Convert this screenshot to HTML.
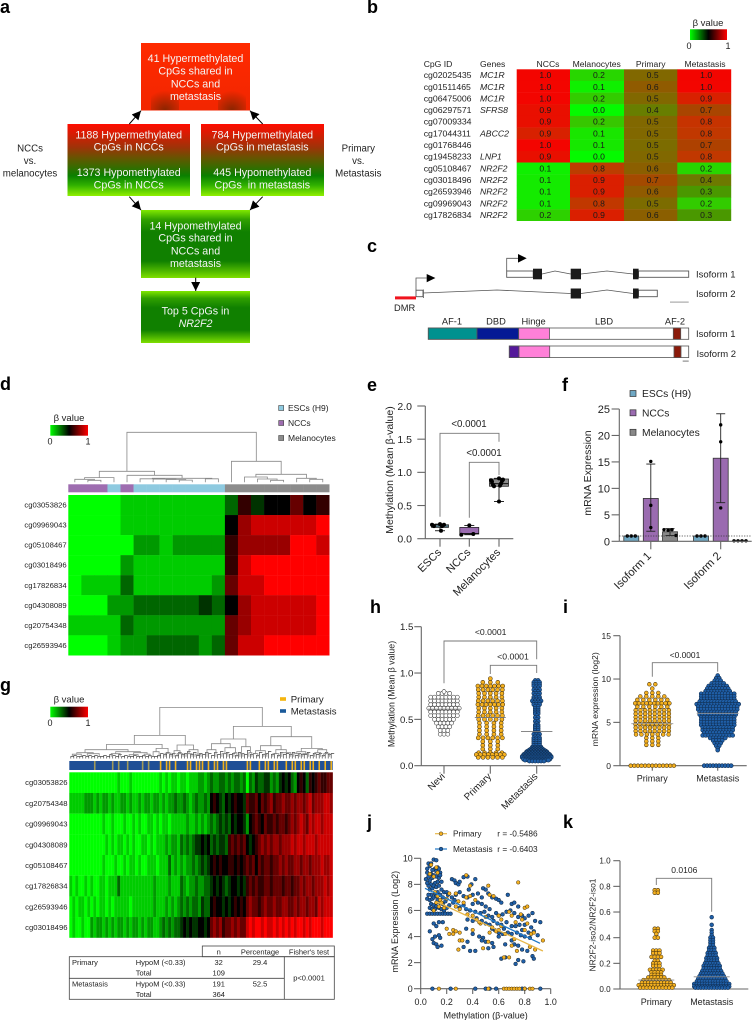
<!DOCTYPE html>
<html lang="en">
<head>
<meta charset="utf-8">
<title>NR2F2 methylation figure</title>
<style>
html,body{margin:0;padding:0;background:#fff;width:752px;height:1020px;overflow:hidden}
svg{display:block}
text{font-family:"Liberation Sans",sans-serif;fill:#222}
.pl{font-size:18px;font-weight:bold;fill:#000}
.bt{font-size:10.7px;fill:#f4f4f4;text-anchor:middle}
.sd{font-size:9.7px;fill:#222;text-anchor:middle}
.tb{font-size:7.5px;fill:#222}
.mid{text-anchor:middle}
</style>
</head>
<body>
<svg id="fig" width="752" height="1020" viewBox="0 0 752 1020" xmlns="http://www.w3.org/2000/svg">
<defs>
<linearGradient id="gradHot" x1="0" y1="0" x2="0" y2="1"><stop offset="0" stop-color="#ff2a00"/><stop offset="1" stop-color="#f22600"/></linearGradient>
<radialGradient id="gradSmudge" cx="0.5" cy="1" r="0.75"><stop offset="0" stop-color="#8a2500"/><stop offset="1" stop-color="#8a2500" stop-opacity="0"/></radialGradient>
<linearGradient id="gradMid" x1="0" y1="0" x2="0" y2="1"><stop offset="0" stop-color="#ff0c00"/><stop offset="0.32" stop-color="#a03208"/><stop offset="0.5" stop-color="#5b5b00"/><stop offset="0.72" stop-color="#0a8000"/><stop offset="0.85" stop-color="#30b000"/><stop offset="1" stop-color="#90f000"/></linearGradient>
<linearGradient id="gradLow" x1="0" y1="0" x2="0" y2="1"><stop offset="0" stop-color="#80e800"/><stop offset="0.14" stop-color="#30a000"/><stop offset="0.32" stop-color="#108000"/><stop offset="0.75" stop-color="#108000"/><stop offset="0.9" stop-color="#50b800"/><stop offset="1" stop-color="#80e000"/></linearGradient>
<linearGradient id="gradBeta" x1="0" y1="0" x2="1" y2="0"><stop offset="0" stop-color="#00ff00"/><stop offset="0.5" stop-color="#000"/><stop offset="1" stop-color="#ff0000"/></linearGradient>
<marker id="arrowHead" viewBox="0 0 10 10" refX="10" refY="5" markerWidth="9" markerHeight="9" markerUnits="userSpaceOnUse" orient="auto"><path d="M0 0L10 5L0 10z" fill="#000"/></marker>
</defs>

<g>
<text class="pl" x="0" y="13">a</text>
<text class="pl" x="367" y="13">b</text>
<text class="pl" x="367" y="252">c</text>
<text class="pl" x="0" y="390">d</text>
<text class="pl" x="367" y="391">e</text>
<text class="pl" x="562" y="391">f</text>
<text class="pl" x="0" y="691">g</text>
<text class="pl" x="370" y="613">h</text>
<text class="pl" x="563" y="613">i</text>
<text class="pl" x="367" y="828">j</text>
<text class="pl" x="563" y="828">k</text>
</g>

<g>
<rect x="141" y="43" width="109" height="67.5" fill="url(#gradHot)"/>
<rect x="151" y="84" width="28" height="26" fill="url(#gradSmudge)"/>
<rect x="218" y="84" width="28" height="26" fill="url(#gradSmudge)"/>
<rect x="67.5" y="124" width="122.5" height="72" fill="url(#gradMid)"/>
<rect x="201" y="124" width="123" height="72" fill="url(#gradMid)"/>
<rect x="141" y="210" width="109" height="68" fill="url(#gradLow)"/>
<rect x="141" y="291" width="109" height="52" fill="url(#gradLow)"/>
<g stroke="#000" stroke-width="1">
<line x1="129.3" y1="124" x2="141" y2="110.7" marker-end="url(#arrowHead)"/>
<line x1="262.7" y1="124" x2="250" y2="110.7" marker-end="url(#arrowHead)"/>
<line x1="129.3" y1="196.7" x2="141" y2="210" marker-end="url(#arrowHead)"/>
<line x1="262.7" y1="196.7" x2="250" y2="210" marker-end="url(#arrowHead)"/>
<line x1="195.7" y1="277.7" x2="195.7" y2="291" marker-end="url(#arrowHead)"/>
</g>
<g>
<text class="bt" x="195.5" y="62">41 Hypermethylated</text><text class="bt" x="195.5" y="74.7">CpGs shared in</text><text class="bt" x="195.5" y="87.4">NCCs and</text><text class="bt" x="195.5" y="100">metastasis</text>
</g>
<g>
<text class="bt" x="128.7" y="138.4">1188 Hypermethylated</text><text class="bt" x="128.7" y="150.7">CpGs in NCCs</text><text class="bt" x="128.7" y="176">1373 Hypomethylated</text><text class="bt" x="128.7" y="188.7">CpGs in NCCs</text>
</g>
<g>
<text class="bt" x="262.3" y="138.4">784 Hypermethylated</text><text class="bt" x="262.3" y="150.7">CpGs in metastasis</text><text class="bt" x="262.3" y="176">445 Hypomethylated</text><text class="bt" x="262.3" y="188.7">CpGs&#160; in metastasis</text>
</g>
<g>
<text class="bt" x="195.5" y="229.4">14 Hypomethylated</text><text class="bt" x="195.5" y="241.7">CpGs shared in</text><text class="bt" x="195.5" y="254.4">NCCs and</text><text class="bt" x="195.5" y="267">metastasis</text>
</g>
<g>
<text class="bt" x="195.5" y="314.7">Top 5 CpGs in</text><text class="bt" x="195.5" y="327" font-style="italic">NR2F2</text>
</g>
<g>
<text class="sd" x="30" y="151.3">NCCs</text><text class="sd" x="30" y="164">vs.</text><text class="sd" x="30" y="176.6">melanocytes</text>
</g>
<g>
<text class="sd" x="358.3" y="151.3">Primary</text><text class="sd" x="358.3" y="164">vs.</text><text class="sd" x="358.3" y="176.6">Metastasis</text>
</g>
</g>

<g id="panelB">
<g>
<text x="708" y="26" font-size="9.5" class="mid">β value</text>
<rect x="690" y="29.3" width="37" height="10.7" fill="url(#gradBeta)"/>
<text x="689" y="49" font-size="9" class="mid">0</text><text x="728" y="49" font-size="9" class="mid">1</text>
</g>
<g font-size="8.6">
<text x="423.7" y="67.2">CpG ID</text><text x="480" y="67.2">Genes</text>
<text x="548" y="67.2" class="mid">NCCs</text><text x="596.7" y="67.2" class="mid">Melanocytes</text><text x="650.7" y="67.2" class="mid">Primary</text><text x="705" y="67.2" class="mid">Metastasis</text>
</g>
</g>

<g>
<g fill="#fff" stroke="#555" stroke-width="0.9">
<rect x="506.7" y="271" width="26.5" height="6.3"/>
<rect x="638.5" y="271" width="50.2" height="6.3"/>
<rect x="416" y="290.2" width="7" height="6.5"/>
<rect x="638.5" y="290.2" width="18.8" height="6.5"/>
</g>
<g fill="none" stroke="#555" stroke-width="0.8">
<path d="M542 274L555 271L570.7 274"/>
<path d="M581 274L607 271L633 274"/>
<path d="M423 293L497 290L570.7 293.5"/>
<path d="M581 293.5L607 290L633 293.5"/>
<path d="M423.4 289.5V298"/>
<path d="M506.7 271V258.3H518"/>
<path d="M416 290V278H426.7"/>
</g>
<path d="M518 254L526.7 258.3L518 262.6z" fill="#000"/>
<path d="M426.7 274L435.4 278L426.7 282.3z" fill="#000"/>
<g fill="#1a1a1a">
<rect x="533" y="268.7" width="9" height="10.6"/>
<rect x="570.7" y="268.7" width="10.3" height="10.6"/>
<rect x="633" y="268.7" width="5.6" height="10.6"/>
<rect x="570.7" y="288.5" width="10.3" height="10"/>
<rect x="633" y="288.5" width="5.6" height="10"/>
</g>
<rect x="395" y="296.4" width="21" height="3" fill="#f0141e"/>
<text x="394" y="311" font-size="9.3">DMR</text>
<rect x="670" y="301.6" width="18.7" height="1" fill="#999"/>
<text x="696" y="277.5" font-size="9.5">Isoform 1</text>
<text x="696" y="297" font-size="9.5">Isoform 2</text>
<g font-size="9.3">
<text x="452" y="324.3" class="mid">AF-1</text>
<text x="496" y="324.3" class="mid">DBD</text>
<text x="533.6" y="324.3" class="mid">Hinge</text>
<text x="604" y="324.3" class="mid">LBD</text>
<text x="675" y="324.3" class="mid">AF-2</text>
</g>
<g stroke="#555" stroke-width="0.8">
<rect x="428.3" y="328" width="260.4" height="11.3" fill="#fff"/>
<rect x="428.3" y="328" width="48.7" height="11.3" fill="#00918f"/>
<rect x="477" y="328" width="41.7" height="11.3" fill="#041a95"/>
<rect x="518.7" y="328" width="30.8" height="11.3" fill="#ff80d8"/>
<rect x="673.3" y="328" width="7.4" height="11.3" fill="#8b1a0a"/>
<rect x="509.3" y="346" width="179.4" height="11.6" fill="#fff"/>
<rect x="509.3" y="346" width="9.7" height="11.6" fill="#54189a"/>
<rect x="519" y="346" width="30.7" height="11.6" fill="#ff80d8"/>
<rect x="674" y="346" width="7" height="11.6" fill="#8b1a0a"/>
</g>
<text x="696" y="337" font-size="9.5">Isoform 1</text>
<text x="696.5" y="357" font-size="9.5">Isoform 2</text>
<rect x="682.7" y="360.6" width="6" height="1" fill="#777"/>
</g>

<g id="panelD">
<g>
<text x="69" y="421" font-size="9.5" class="mid">β value</text>
<rect x="50.3" y="425" width="37.7" height="10.7" fill="url(#gradBeta)"/>
<text x="50" y="444.5" font-size="9" class="mid">0</text><text x="88" y="444.5" font-size="9" class="mid">1</text>
</g>
<g font-size="8.5">
<rect x="278.7" y="405.5" width="5" height="5" fill="#8ecae0" stroke="#444" stroke-width="0.6"/><text x="288" y="411">ESCs (H9)</text>
<rect x="278.7" y="420.5" width="5" height="5" fill="#9e6db0" stroke="#444" stroke-width="0.6"/><text x="288" y="426">NCCs</text>
<rect x="278.7" y="435.5" width="5" height="5" fill="#8c8c8c" stroke="#444" stroke-width="0.6"/><text x="288" y="441">Melanocytes</text>
</g>
</g>

<g id="panelE">
<text transform="translate(393 470) rotate(-90)" font-size="10.5" class="mid">Methylation (Mean β-value)</text>
<text x="469" y="427" font-size="9.7" class="mid">&lt;0.0001</text>
<text x="484" y="456" font-size="9.7" class="mid">&lt;0.0001</text>
</g>

<g id="panelF">
<text transform="translate(591 473) rotate(-90)" font-size="10.5" class="mid">mRNA Expression</text>
<g font-size="10.3">
<rect x="630" y="390.5" width="6" height="6" fill="#6fa8c4" stroke="#333" stroke-width="0.7"/><text x="642" y="397.2">ESCs (H9)</text>
<rect x="630" y="409.8" width="6" height="6" fill="#9a6bb0" stroke="#333" stroke-width="0.7"/><text x="642" y="416.6">NCCs</text>
<rect x="630" y="429.3" width="6" height="6" fill="#888" stroke="#333" stroke-width="0.7"/><text x="642" y="436">Melanocytes</text>
</g>
</g>

<g id="panelG">
<g>
<text x="69" y="702.5" font-size="9.5" class="mid">β value</text>
<rect x="50.3" y="706.7" width="37.7" height="10.6" fill="url(#gradBeta)"/>
<text x="50" y="726" font-size="9" class="mid">0</text><text x="88" y="726" font-size="9" class="mid">1</text>
</g>
<g font-size="9.6">
<rect x="280" y="697.2" width="6" height="3.6" fill="#f5b50f"/><text x="290.7" y="702.5">Primary</text>
<rect x="280" y="709.2" width="6" height="3.6" fill="#1a5a9a"/><text x="290.7" y="714.5">Metastasis</text>
</g>
<g>
<g fill="none" stroke="#444" stroke-width="0.8">
<rect x="202.3" y="946" width="132" height="10.7"/>
<rect x="69.3" y="956.7" width="265" height="42.6"/>
<path d="M69.3 978.3H284.3M284.3 956.7V999.3"/>
</g>
<text class="tb" x="218.7" y="954.3" text-anchor="middle">n</text>
<text class="tb" x="260" y="954.3" text-anchor="middle">Percentage</text>
<text class="tb" x="309" y="954.3" text-anchor="middle">Fisher's test</text>
<text class="tb" x="72" y="965">Primary</text><text class="tb" x="135.7" y="965">HypoM (&lt;0.33)</text><text class="tb" x="218.7" y="965" text-anchor="middle">32</text><text class="tb" x="260" y="965" text-anchor="middle">29.4</text>
<text class="tb" x="135.7" y="975.7">Total</text><text class="tb" x="218.7" y="975.7" text-anchor="middle">109</text>
<text class="tb" x="72" y="986.4">Metastasis</text><text class="tb" x="135.7" y="986.4">HypoM (&lt;0.33)</text><text class="tb" x="218.7" y="986.4" text-anchor="middle">191</text><text class="tb" x="260" y="986.4" text-anchor="middle">52.5</text>
<text class="tb" x="135.7" y="997">Total</text><text class="tb" x="218.7" y="997" text-anchor="middle">364</text>
<text class="tb" x="309" y="980.7" text-anchor="middle">p&lt;0.0001</text>
</g>
</g>

<g id="panelH">
<text transform="translate(394.5 694) rotate(-90)" font-size="8.8" class="mid">Methylation (Mean β value)</text>
<text x="490.7" y="635.2" font-size="8.7" class="mid">&lt;0.0001</text>
<text x="513" y="659.6" font-size="8.7" class="mid">&lt;0.0001</text>
</g>

<g id="panelI">
<text transform="translate(598 699.3) rotate(-90)" font-size="8.7" class="mid">mRNA expression (log2)</text>
<text x="685" y="658" font-size="8.4" class="mid">&lt;0.0001</text>
</g>

<g id="panelJ">
<text transform="translate(398 921.7) rotate(-90)" font-size="9" class="mid">mRNA Expression (Log2)</text>
<text x="485.7" y="1018.6" font-size="9" class="mid">Methylation (β-value)</text>
<g font-size="8.3">
<line x1="435" x2="447" y1="833.7" y2="833.7" stroke="#e8b84a" stroke-width="1.2"/><circle cx="441" cy="833.7" r="1.9" fill="#f5b120" stroke="#333" stroke-width="0.5"/><text x="453" y="836.6">Primary</text><text x="497.3" y="836.6">r = -0.5486</text>
<line x1="435" x2="447" y1="849" y2="849" stroke="#1f78c8" stroke-width="1.2"/><circle cx="441" cy="849" r="1.9" fill="#1f5fa8" stroke="#123" stroke-width="0.5"/><text x="453" y="851.9">Metastasis</text><text x="497.3" y="851.9">r = -0.6403</text>
</g>
</g>

<g id="panelK">
<text transform="translate(595.5 925) rotate(-90)" font-size="8.5" class="mid">NR2F2-iso2/NR2F2-iso1</text>
<text x="684.3" y="873" font-size="8.5" class="mid">0.0106</text>
</g>
</svg>

<script>
/* ---------- panel b data ---------- */
const bCpgIds=['cg02025435','cg01511465','cg06475006','cg06297571','cg07009334','cg17044311','cg01768446','cg19458233','cg05108467','cg03018496','cg26593946','cg09969043','cg17826834'];
const bGenes=['MC1R','MC1R','MC1R','SFRS8','','ABCC2','','LNP1','NR2F2','NR2F2','NR2F2','NR2F2','NR2F2'];
const bNCCs=[.98,.98,.98,.94,.94,.87,.98,.94,.06,.08,.08,.08,.18];
const bMelanocytes=[.16,.06,.2,.02,.22,.1,.09,.02,.76,.88,.88,.78,.88];
const bPrimary=[.52,.58,.52,.42,.52,.52,.5,.52,.56,.66,.58,.5,.56];
const bMetastasis=[.98,.98,.87,.68,.8,.78,.7,.78,.16,.44,.3,.2,.3];

/* ---------- panel d data ---------- */
const dRowLabels=['cg03053826','cg09969043','cg05108467','cg03018496','cg17826834','cg04308089','cg20754348','cg26593946'];
const dAnnotation=[1,1,1,0,1,0,0,0,0,0,0,0,2,2,2,2,2,2,2,2];
const dRow1=[0,0,0,0,.1,.1,.1,.1,.1,.1,.1,.1,.3,.6,.4,.5,.5,.7,.5,.6];
const dRow2=[0,0,0,0,.1,.1,.1,.1,.1,.1,.1,.1,.5,.8,.9,.9,.9,.9,.9,1];
const dRow3=[0,0,0,0,0,.2,.2,.1,.2,.2,.2,.2,.6,.8,.8,.8,.8,1,1,.9];
const dRow4=[0,0,0,0,.2,.1,.1,.1,.1,.1,.1,.1,.6,.9,1,1,1,1,1,1];
const dRow5=[0,.1,.1,.1,.3,.1,.1,.1,.1,.1,.1,.2,.7,.9,.9,1,1,1,1,1];
const dRow6=[0,0,0,.2,.2,.3,.3,.3,.3,.3,.4,.3,.5,.8,.9,.9,.9,.9,.9,1];
const dRow7=[.1,.1,.1,.1,.3,.2,.2,.2,.2,.2,.2,.2,.7,.8,.9,.9,.9,.9,.9,1];
const dRow8=[0,0,0,.1,.2,.2,.3,.3,.3,.3,.2,.3,.7,.9,.9,1,1,1,1,1];
const dTree=[50,[11,[4.7,[3,0,[2,1,2]],3],[7,4,[4,[3.5,5,[3.2,6,[2.8,7,[2.2,8,9]]]],[3.5,10,11]]]],[21,12,[8,[5.3,13,[3.3,14,[2,15,16]]],[4,17,[3,18,19]]]]];

/* ---------- panel e data ---------- */
const eCategories=['ESCs','NCCs','Melanocytes'];
const eTicks=[0,.5,1,1.5,2];
const eTickLabels=['0.0','0.5','1.0','1.5','2.0'];
const eWhiskerLow=[.12,.06,.56];
const eQ1=[.17,.07,.79];
const eMedian=[.19,.08,.83];
const eQ3=[.21,.17,.9];
const eWhiskerHigh=[.22,.2,.91];
const eESCs=[.22,.21,.21,.2,.2,.19,.19,.12];
const eNCCs=[.2,.07,.06];
const eMelanocytes=[.91,.89,.88,.87,.86,.83,.81,.8,.79,.56];

/* ---------- panel f data ---------- */
const fGroups=['Isoform 1','Isoform 2'];
const fTicks=[0,5,10,15,20,25];
const fMeans=[1,8.1,1.8,1,15.7,0.1];
const fErrLow=[1,1.9,1.1,1,7.3,0.1];
const fErrHigh=[1,14.6,2.4,1,24.1,0.1];
const fPoints=[[1,1,1],[15.1,6.8,2.6],[2.2,2.1,2.2,1.1],[1,1,1],[22,18.8,6.3],[.1,.1,.1,.1]];

/* ---------- panel g data (beta, in tenths) ---------- */
const gRowLabels=['cg03053826','cg20754348','cg09969043','cg04308089','cg05108467','cg17826834','cg26593946','cg03018496'];
const gRow1=[0,0,0,0,0,0,0,0,0,0,0,0,0,0,0,0,1,0,0,0,1,0,0,0,0,0,0,0,0,0,1,0,1,0,1,1,0,1,1,0,1,1,1,2,2,1,2,3,2,2,3,3,2,3,2,3,3,2,3,0,3,2,4,3,3,4,4,2,3,2,4,5,4,5,3,2,5,6,5,3,6,5,6,7,6,6,7,7];
const gRow2=[1,1,1,1,1,2,2,2,1,2,1,2,2,1,2,1,1,2,2,1,2,1,1,2,1,2,2,1,2,2,1,2,1,2,2,3,2,2,3,2,1,2,3,2,2,3,2,5,6,5,4,3,5,4,5,6,5,5,4,7,6,6,7,5,7,6,7,8,6,7,7,8,7,7,8,7,8,8,7,8,9,7,8,8,8,9,9,8];
const gRow3=[0,0,0,0,0,0,0,0,0,0,0,1,0,0,1,0,0,0,1,0,0,1,0,1,0,0,1,1,0,1,0,1,1,0,1,1,1,1,1,2,1,1,2,1,2,1,2,3,2,3,4,3,4,3,5,4,5,5,4,2,5,6,7,6,5,7,6,6,7,6,7,7,6,7,8,7,8,9,8,7,9,8,9,9,8,9,9,9];
const gRow4=[0,0,0,0,0,0,0,0,0,0,0,0,1,0,1,0,1,1,0,1,0,1,0,0,1,1,0,1,0,1,1,1,2,1,2,2,1,3,2,3,2,3,4,4,5,4,5,3,4,3,4,4,3,6,7,6,7,6,7,5,4,5,6,7,8,7,8,7,8,8,7,8,8,8,9,8,9,9,8,9,9,9,8,9,9,9,9,9];
const gRow5=[0,0,0,0,0,0,0,0,0,0,0,1,0,0,0,1,0,0,1,0,1,1,0,1,0,0,1,1,1,0,1,1,1,3,1,2,1,2,1,2,2,3,2,3,4,3,4,5,6,5,6,5,5,6,6,5,6,5,6,7,6,7,5,7,6,7,7,6,7,7,8,7,8,7,7,8,8,7,8,8,7,8,8,8,9,8,8,9];
const gRow6=[1,0,1,0,0,1,0,1,0,0,1,1,0,1,1,1,3,1,1,1,1,1,1,1,1,1,1,1,2,1,1,1,1,2,1,1,1,3,2,1,2,2,3,2,2,3,3,4,5,4,5,4,3,4,5,5,4,5,4,6,7,6,7,6,6,7,7,6,7,7,7,6,7,7,6,7,7,8,7,8,8,7,8,8,8,9,8,9];
const gRow7=[0,1,0,1,1,0,1,0,1,0,1,1,0,1,0,1,1,1,1,1,0,1,1,1,1,1,1,1,2,1,1,1,2,1,2,1,2,3,2,3,2,3,3,2,4,3,3,5,6,5,5,4,5,4,5,6,5,6,5,7,8,7,7,6,7,8,7,7,8,7,7,8,8,7,7,8,7,8,8,7,8,8,7,9,8,9,9,9];
const gRow8=[0,1,0,0,1,0,0,2,1,2,2,1,2,1,2,1,2,2,1,2,1,2,2,1,2,1,2,2,1,1,2,3,2,3,2,3,3,4,5,4,5,4,4,5,5,4,5,7,8,7,8,6,7,7,8,7,8,7,7,9,10,9,10,10,9,10,9,9,10,9,10,9,10,9,10,9,10,10,9,10,9,10,10,10,9,10,10,10];
const gAnnotation=[0,0,0,0,0,0,0,0,1,0,0,0,0,0,1,0,1,0,0,1,0,0,0,0,1,0,1,0,0,0,1,0,1,1,0,1,0,0,0,1,1,0,1,1,1,0,1,0,1,1,0,1,1,0,0,0,0,0,0,1,1,0,0,1,0,1,1,0,1,1,0,0,1,0,1,1,0,1,1,0,1,1,0,1,0,1,0,1];
const gTree=[49.3,[21.3,[12.3,[7,[4,[2.5,1,4],[3,6,10]],[5,[3,14,17],[4,[2,20,23],[2.5,25,27]]]],[8.3,[5,28,30],[3.5,32,34]]],[11.7,[6,35,[3,36,38]],[7,[3,39,41],[2.5,42,44]]]],[30.3,[17.7,[13,[7,46,49],[9,[3,51,53],[4,55,56]]],[10,[3,57,58],[4,60,61]]],[20,[11,[6,[3,61.5,63],[2.5,65,66]],[7,[3,68,70],[4,71,74]]],[8.3,[5,[3,75,77],[3,78,80]],[7,[4,82,84],[3,85,87]]]]]];
const gFuzz=[1,2,1,1,2,1,2,1,2,1,1,2,1,3,2,1,3,1,2,1,1,2,1,1,2,1,2,1,1,2,4,3,5,3,4,2,5,3,4,6,3,5,2,4,3,5,4,2,5,3,6,4,5,3,4,2,5,4,3,7,3,4,2,5,3,4,6,3,4,2,5,3,4,3,5,2,4,3,3,5,2,4,3,4,2,5,3,4];

/* ---------- panel h data (value levels + dots per level) ---------- */
const hCategories=['Nevi','Primary','Metastasis'];
const hTicks=[0,.5,1,1.5];
const hTickLabels=['0.0','0.5','1.0','1.5'];
const hMeans=[.61,.52,.37];
const hNeviLevels=[.34,.38,.42,.46,.50,.54,.58,.62,.66,.70,.74,.78,.80];
const hNeviCounts=[3,3,4,5,6,8,8,9,8,8,8,4,1];
const hPrimaryLevels=[.94,.90,.86,.82,.78,.74,.70,.66,.62,.58,.54,.50,.46,.42,.38,.34,.30,.26,.22,.18,.14,.12,.09];
const hPrimaryCounts=[1,3,7,6,5,5,6,7,5,5,6,5,4,4,4,4,6,3,3,3,5,8,6];
const hMetLevels=[.92,.9,.88,.86,.84,.82,.8,.78,.76,.74,.72,.7,.68,.66,.64,.62,.6,.58,.56,.54,.52,.5,.48,.46,.44,.42,.4,.38,.36,.34,.32,.3,.28,.26,.24,.22,.2,.19,.18,.17,.16,.15,.14,.13,.12,.11,.1,.09,.08,.07,.06,.05];
const hMetCounts=[2,3,3,3,2,3,2,3,2,3,3,4,3,3,2,2,2,2,2,1,2,1,2,1,2,2,2,2,2,3,2,3,3,3,3,3,4,4,5,6,7,8,8,9,10,10,11,11,10,10,9,6];

/* ---------- panel i data ---------- */
const iCategories=['Primary','Metastasis'];
const iTicks=[0,5,10,15];
const iMeans=[4.85,6.05];
const iPrimaryLevels=[9.4,8.9,8.4,8,7.6,7.2,6.8,6.4,6,5.6,5.2,4.8,4.4,4,3.6,3.2,2.8,2.4,0];
const iPrimaryCounts=[2,1,3,5,6,10,6,8,8,8,8,9,8,8,7,3,3,3,13];
const iMetLevels=[10.4,10.1,9.8,9.5,9.2,8.9,8.6,8.3,8,7.7,7.4,7.1,6.8,6.5,6.2,5.9,5.6,5.3,5,4.7,4.4,4.1,3.8,3.5,3.2,2.9,2.6,2.3,2,1.8,0];
const iMetCounts=[1,2,3,5,7,8,9,12,12,12,13,15,14,14,13,13,12,12,12,12,11,11,10,11,6,4,3,2,1,1,10];

/* ---------- panel j data ---------- */
const jXTicks=[0,.2,.4,.6,.8,1];
const jXTickLabels=['0.0','0.2','0.4','0.6','0.8','1.0'];
const jYTicks=[0,2,4,6,8,10];
const jMetastasis=[[.05,9.2],[.06,9.6],[.05,8.9],[.07,9.4],[.08,9.6],[.1,9.9],[.12,9.85],[.11,9.2],[.09,9.1],[.13,9.3],[.14,9.2],[.15,8.9],[.12,9],[.08,8.8],[.06,8.6],[.04,8.4],[.07,8.3],[.09,8.5],[.1,8.7],[.12,8.6],[.14,8.5],[.15,8.7],[.16,8.2],[.13,8.2],[.11,8.1],[.08,8],[.06,7.9],[.05,8.1],[.07,7.6],[.09,7.7],[.1,7.9],[.12,7.8],[.14,7.9],[.16,7.6],[.18,7.4],[.13,7.4],[.11,7.3],[.08,7.2],[.06,7.2],[.05,6.9],[.07,6.8],[.09,6.9],[.1,7],[.12,7.1],[.15,7.2],[.17,7],[.2,7.4],[.21,7.2],[.13,6.8],[.15,6.6],[.17,6.5],[.19,6.7],[.08,6.5],[.1,6.4],[.12,6.3],[.07,6.2],[.09,6.1],[.11,6.1],[.14,6.2],[.16,6.1],[.18,6],[.2,6.2],[.05,5.75],[.07,5.75],[.09,5.75],[.11,5.75],[.13,5.75],[.15,5.75],[.17,5.75],[.19,5.75],[.21,5.75],[.23,5.75],[.22,6.4],[.25,6.6],[.24,7],[.07,4.4],[.1,5],[.12,4.8],[.14,5.1],[.17,5.1],[.11,4],[.09,3.8],[.1,3.5],[.12,3.4],[.13,3.2],[.15,3.9],[.16,3.3],[.14,4.1],[.24,8.4],[.26,8.3],[.27,8.1],[.29,8],[.3,8.2],[.33,8.55],[.36,8.6],[.42,8.4],[.39,8],[.37,7.6],[.4,7.2],[.44,7.3],[.48,7.7],[.5,7.6],[.47,7],[.52,7.3],[.55,7],[.58,6.9],[.6,6.8],[.62,6.6],[.67,7.2],[.7,6.5],[.72,6.6],[.75,6.3],[.27,7.2],[.3,7.4],[.33,7.1],[.36,7],[.26,6.8],[.3,6.2],[.33,6.4],[.35,6.1],[.38,6],[.4,6.5],[.44,6.6],[.47,6.5],[.5,6.3],[.53,6.1],[.42,5.9],[.46,5.8],[.49,5.9],[.52,5.6],[.55,5.5],[.58,5.8],[.6,5.6],[.63,5.7],[.66,5.9],[.69,6],[.72,5.8],[.75,5.5],[.78,5.6],[.8,5.4],[.83,5.6],[.86,5.8],[.88,5.2],[.92,5.1],[.36,5.3],[.4,5.2],[.43,5.4],[.47,5.2],[.5,5],[.53,4.9],[.56,5.2],[.59,5],[.62,4.9],[.64,4.6],[.66,5.1],[.7,4.8],[.73,4.8],[.76,4.9],[.78,4.5],[.8,4.9],[.83,4.3],[.85,4.7],[.87,4.4],[.9,4.1],[.67,4.3],[.7,4.2],[.74,4.3],[.77,4.1],[.8,4],[.84,3.9],[.57,4.5],[.6,4.3],[.63,4.2],[.55,4.6],[.45,4],[.48,3.9],[.5,3.6],[.52,3.1],[.55,3.5],[.56,3.2],[.6,4],[.65,3.4],[.7,3.7],[.72,3.4],[.75,3.3],[.78,3],[.82,2.9],[.86,2.5],[.87,2.3],[.62,2.3],[.65,2.4],[.75,2.2],[.79,2.1],[.73,1.9],[.36,3.6],[.38,2.9],[.33,3.2],[.42,2.9],[.47,3.7],[.4,4.2],[.35,4.6],[.09,0],[.23,0],[.42,0],[.5,0],[.53,0],[.58,0],[.78,0],[.8,0],[.92,0]];
const jPrimary=[[.08,9.5],[.12,9.3],[.13,8.9],[.1,8.6],[.07,8.8],[.11,7.4],[.13,7.1],[.15,6.8],[.12,6.6],[.14,6.3],[.1,6],[.16,6.6],[.18,6.2],[.2,6.9],[.22,7.3],[.27,7.3],[.29,6.7],[.27,6.3],[.3,6.1],[.33,6.6],[.35,7],[.35,8.7],[.38,7.9],[.38,7.1],[.42,6.8],[.36,5.7],[.4,5.6],[.43,5.3],[.46,5],[.4,4.5],[.5,5.5],[.52,7.9],[.53,7.2],[.56,7.1],[.6,5.6],[.62,4.8],[.55,4.7],[.58,4.4],[.6,4.5],[.65,4.2],[.68,5.9],[.75,8.15],[.77,5.7],[.8,6.2],[.82,6.3],[.78,5.3],[.82,5],[.85,4.2],[.87,4.3],[.84,3.2],[.88,3],[.94,3.7],[.7,3.3],[.72,3.8],[.74,2.9],[.68,2.4],[.64,2.4],[.48,3.1],[.52,3.6],[.53,4.3],[.3,3.7],[.32,3.7],[.22,4.2],[.2,4.6],[.25,4.5],[.27,4.4],[.3,4.3],[.29,3],[.25,4.2],[.45,5.1],[.62,5.3],[.7,5.6],[.73,5.1],[.8,4.5],[.14,0],[.27,0],[.52,0],[.64,0],[.66,0],[.68,0],[.7,0],[.72,0],[.74,0],[.76,0],[.8,0],[.84,0],[.86,0]];
const jPrimaryFitX=[.123,.94];
const jPrimaryFitY=[6.67,2.89];
const jMetFitX=[.033,.918];
const jMetFitY=[7.7,3.48];

/* ---------- panel k data ---------- */
const kCategories=['Primary','Metastasis'];
const kTicks=[0,.2,.4,.6,.8,1];
const kTickLabels=['0.0','0.2','0.4','0.6','0.8','1.0'];
const kMeans=[.07,.095];
const kPrimaryLevels=[.77,.75,.47,.45,.43,.4,.3,.28,.25,.22,.2,.18,.15,.13,.11,.09,.07,.05,.03,.01];
const kPrimaryCounts=[2,2,2,2,1,2,3,3,4,2,3,3,5,4,4,6,9,10,12,11];
const kMetLevels=[.56,.5,.46,.44,.42,.4,.38,.36,.34,.32,.3,.28,.26,.24,.22,.2,.18,.16,.14,.12,.1,.08,.06,.04,.02,.01];
const kMetCounts=[1,1,1,1,1,2,2,2,2,3,3,4,4,5,5,6,7,7,8,9,10,11,12,14,14,13];

/* ---------- helpers ---------- */
const NS='http://www.w3.org/2000/svg';
const AXIS='#666';
function linear(d0,d1,r0,r1){return function(v){return r0+(v-d0)*(r1-r0)/(d1-d0);};}
function mark(tag,name,attrs,parent){
  const e=document.createElementNS(NS,tag);
  
  
  for(const k in attrs){e.setAttribute(k,attrs[k]);}
  parent.appendChild(e);
  return e;
}
function txt(name,str,x,y,size,anchor,parent,extra){
  const a=Object.assign({x:x,y:y,'font-size':size,'text-anchor':anchor},extra||{});
  const e=mark('text',name,a,parent);
  e.textContent=str;
  return e;
}
function line(name,x1,y1,x2,y2,parent,color,w){
  return mark('line',name,{x1:x1,y1:y1,x2:x2,y2:y2,stroke:color||AXIS,'stroke-width':w||1.1},parent);
}
function yAxis(prefix,ticks,labels,sy,x,xEnd,tickLen,labelRight,size,parent){
  line(prefix+'-y-axis',x,sy(ticks[0]),x,sy(ticks[ticks.length-1]),parent);
  line(prefix+'-x-axis',x,sy(0),xEnd,sy(0),parent);
  ticks.forEach(function(t,i){
    line(prefix+'-y-tick',x-tickLen,sy(t),x,sy(t),parent);
    txt(prefix+'-y-tick-label',labels[i],labelRight,sy(t)+size*0.36,size,'end',parent);
  });
}
function xTicksRotated(prefix,cats,xs,y0,tickLen,endDx,endY,size,parent){
  cats.forEach(function(c,i){
    line(prefix+'-x-tick',xs[i],y0,xs[i],y0+tickLen,parent);
    const ex=xs[i]+endDx,ey=endY;
    txt(prefix+'-x-label',c,ex,ey,size,'end',parent,{transform:'rotate(-45 '+ex+' '+ey+')'});
  });
}
function xTicksFlat(prefix,cats,xs,y0,tickLen,labelY,size,parent){
  cats.forEach(function(c,i){
    line(prefix+'-x-tick',xs[i],y0,xs[i],y0+tickLen,parent);
    txt(prefix+'-x-label',c,xs[i],labelY,size,'middle',parent);
  });
}
function betaBlackScale(v){
  if(v<.5){return 'rgb(0,'+Math.round(255*(1-2*v))+',0)';}
  return 'rgb('+Math.round(255*(2*v-1))+',0,0)';
}
function betaMixScale(v){
  return 'rgb('+Math.round(248*v)+','+Math.round(255*(1-v)*(v>.25&&v<.75?.85:1))+',0)';
}
function expand(levels,counts){
  const rows=[];
  levels.forEach(function(l,i){rows.push({v:l,n:counts[i]});});
  return rows;
}
/* dots in a row are spaced by dx, or spread to fill span when the row is sparse */
function dotRows(name,rows,cx,sy,dx,r,fill,stroke,parent,span,maxDx){
  rows.forEach(function(row){
    let step=dx;
    if(span){step=Math.max(dx,Math.min(span/row.n,maxDx));}
    for(let i=0;i<row.n;i++){
      mark('circle',name,{cx:cx+(i-(row.n-1)/2)*step,cy:sy(row.v),r:r,fill:fill,stroke:stroke,'stroke-width':.55},parent);
    }
  });
}
function drawTree(node,name,xf,yf,parent,color){
  if(typeof node==='number'){return {x:xf(node),h:0};}
  const a=drawTree(node[1],name,xf,yf,parent,color);
  const b=drawTree(node[2],name,xf,yf,parent,color);
  const h=node[0];
  mark('path',name,{d:'M'+a.x+' '+yf(a.h)+'V'+yf(h)+'H'+b.x+'V'+yf(b.h),fill:'none',stroke:color,'stroke-width':.8},parent);
  return {x:(a.x+b.x)/2,h:h};
}
function bracket(name,x1,x2,y,y1,y2,parent){
  mark('path',name,{d:'M'+x1+' '+y1+'V'+y+'H'+x2+'V'+y2,fill:'none',stroke:'#777','stroke-width':.9},parent);
}

/* ---------- panel b ---------- */
(function(){
  const g=document.getElementById('panelB');
  const colEdges=[516.7,570,624,677.3,731];
  const rowY=linear(0,13,69.3,220.8);
  const cols=[bNCCs,bMelanocytes,bPrimary,bMetastasis];
  cols.forEach(function(col,c){
    col.forEach(function(v,r){
      mark('rect','heat-cell',{x:colEdges[c],y:rowY(r),width:colEdges[c+1]-colEdges[c]+.2,height:rowY(1)-rowY(0)+.2,fill:betaMixScale(v)},g);
    });
  });
  cols.forEach(function(col,c){
    col.forEach(function(v,r){
      txt('heat-value',v.toFixed(1),(colEdges[c]+colEdges[c+1])/2+2,rowY(r+.5)+3,8.6,'middle',g,{style:'fill:#1a1a1a'});
    });
  });
  bCpgIds.forEach(function(id,r){
    txt('cpg-id',id,423.7,rowY(r+.5)+3,8.7,'start',g);
    if(bGenes[r]){txt('gene-name',bGenes[r],480,rowY(r+.5)+3,8.7,'start',g,{'font-style':'italic'});}
  });
})();

/* ---------- panel d ---------- */
(function(){
  const g=document.getElementById('panelD');
  const rows=[dRow1,dRow2,dRow3,dRow4,dRow5,dRow6,dRow7,dRow8];
  const colX=linear(0,20,68.3,329.3);
  const rowY=linear(0,8,495,655.3);
  const annotColors=['#8ecae0','#9e6db0','#8c8c8c'];
  dAnnotation.forEach(function(a,i){
    mark('rect','annotation-cell',{x:colX(i),y:484.3,width:colX(1)-colX(0)+.2,height:8,fill:annotColors[a]},g);
  });
  rows.forEach(function(row,r){
    row.forEach(function(v,c){
      mark('rect','heat-cell',{x:colX(c),y:rowY(r),width:colX(1)-colX(0)+.2,height:rowY(1)-rowY(0)+.2,fill:betaBlackScale(v)},g);
    });
    txt('cpg-row-label',dRowLabels[r],66.7,rowY(r+.5)+2.6,7.7,'end',g);
  });
  drawTree(dTree,'dendrogram-branch',function(i){return colX(i+.5);},function(h){return 482.3-h;},g,'#888');
})();

/* ---------- panel e ---------- */
(function(){
  const g=document.getElementById('panelE');
  const sy=linear(0,2,538.7,406);
  const xs=[440,469.3,499];
  yAxis('e',eTicks,eTickLabels,sy,425.3,513.3,8,412,10.5,g);
  xTicksRotated('e',eCategories,xs,538.7,8,2,553,11,g);
  const fills=['#8ecae0','#9a6bb0','#8a8a8a'];
  const pts=[eESCs,eNCCs,eMelanocytes];
  const bw=[17,19,19];
  xs.forEach(function(x,i){
    line('e-whisker',x,sy(eWhiskerLow[i]),x,sy(eWhiskerHigh[i]),g,'#111',.9);
    line('e-whisker-cap',x-5,sy(eWhiskerLow[i]),x+5,sy(eWhiskerLow[i]),g,'#111',.9);
    line('e-whisker-cap',x-5,sy(eWhiskerHigh[i]),x+5,sy(eWhiskerHigh[i]),g,'#111',.9);
    mark('rect','e-box',{x:x-bw[i]/2,y:sy(eQ3[i]),width:bw[i],height:sy(eQ1[i])-sy(eQ3[i]),fill:fills[i],stroke:'#111','stroke-width':.7},g);
    line('e-median',x-bw[i]/2,sy(eMedian[i]),x+bw[i]/2,sy(eMedian[i]),g,'#111',.9);
    pts[i].forEach(function(v,k){
      const off=((k%2)?1:-1)*((k*4)%9);
      mark('circle','e-point',{cx:x+off,cy:sy(v),r:2,fill:'#000'},g);
    });
  });
  bracket('e-bracket-outer',xs[0],xs[2],433.3,516.7,441.7,g);
  bracket('e-bracket-inner',xs[1],xs[2],462.3,517.7,475,g);
})();

/* ---------- panel f ---------- */
(function(){
  const g=document.getElementById('panelF');
  const sy=linear(0,25,541.3,409);
  const xs=[631.3,650.8,670,701,720.7,740];
  const fills=['#6fa8c4','#9a6bb0','#888','#6fa8c4','#9a6bb0','#888'];
  fMeans.forEach(function(m,i){
    mark('rect','f-bar',{x:xs[i]-7.5,y:sy(m),width:15,height:sy(0)-sy(m),fill:fills[i],stroke:'#333','stroke-width':.8},g);
    line('f-error-bar',xs[i],sy(fErrLow[i]),xs[i],sy(fErrHigh[i]),g,'#222',.9);
    line('f-error-cap',xs[i]-4.5,sy(fErrHigh[i]),xs[i]+4.5,sy(fErrHigh[i]),g,'#222',.9);
    line('f-error-cap',xs[i]-4.5,sy(fErrLow[i]),xs[i]+4.5,sy(fErrLow[i]),g,'#222',.9);
    fPoints[i].forEach(function(v,k){
      const n=fPoints[i].length;
      const spread=n>=3&&Math.abs(fPoints[i][0]-fPoints[i][2])<.5;
      const off=spread?(k-(n-1)/2)*4:0;
      mark('circle','f-point',{cx:xs[i]+off,cy:sy(v),r:1.7,fill:'#000'},g);
    });
  });
  yAxis('f',fTicks,fTicks.map(String),sy,619.3,751.7,7.7,610,11,g);
  mark('line','f-reference-line',{x1:619.3,x2:751.7,y1:sy(1),y2:sy(1),stroke:'#333','stroke-width':.8,'stroke-dasharray':'1.2 1.4'},g);
  xTicksRotated('f',fGroups,[650.8,720.7],541.3,8,1,556.7,11.3,g);
})();

/* ---------- panel g ---------- */
(function(){
  const g=document.getElementById('panelG');
  const rows=[gRow1,gRow2,gRow3,gRow4,gRow5,gRow6,gRow7,gRow8];
  const colX=linear(0,88,69.3,332.7);
  const rowY=linear(0,8,772.3,937.7);
  mark('rect','annotation-bar',{x:colX(0),y:761,width:colX(88)-colX(0),height:9,fill:'#1f4f96'},g);
  gAnnotation.forEach(function(a,i){
    if(a){
      mark('rect','primary-sample-stripe',{x:colX(i)+.7,y:761,width:1.6,height:9,fill:i<30?'#a09a5a':'#efb01c'},g);
    }
  });
  rows.forEach(function(row,r){
    row.forEach(function(v,c){
      mark('rect','heat-cell',{x:colX(c),y:rowY(r),width:colX(1)-colX(0)+.15,height:rowY(1)-rowY(0)+.1,fill:betaBlackScale(v/10)},g);
    });
    txt('cpg-row-label',gRowLabels[r],67.5,rowY(r+.5)+2.6,7.7,'end',g);
  });
  let d='';
  gFuzz.forEach(function(h,i){
    d+='M'+colX(i+.5)+' 758.5V'+(757.5-h)+'H'+colX(i+1.5);
  });
  mark('path','dendrogram-leaves',{d:d,fill:'none',stroke:'#444','stroke-width':.7},g);
  drawTree(gTree,'dendrogram-branch',function(c){return colX(c);},function(h){return 756.7-h;},g,'#888');
})();

/* ---------- panel h ---------- */
(function(){
  const g=document.getElementById('panelH');
  const sy=linear(0,1.5,765.7,626.7);
  const xs=[444,490.3,536.7];
  yAxis('h',hTicks,hTickLabels,sy,421.3,560.7,7,413.3,9.6,g);
  xTicksRotated('h',hCategories,xs,765.7,8,1.5,777,9.8,g);
  dotRows('h-nevi-point',expand(hNeviLevels,hNeviCounts),xs[0],sy,3.8,2,'#fff','#333',g);
  dotRows('h-primary-point',expand(hPrimaryLevels,hPrimaryCounts),xs[1],sy,4,2,'#f5b120','#443311',g,29,7.5);
  dotRows('h-metastasis-point',expand(hMetLevels,hMetCounts),xs[2],sy,2.9,2,'#1f5fa8','#0f2a4a',g);
  const hw=[16,15.5,15.7];
  xs.forEach(function(x,i){line('h-mean-line',x-hw[i],sy(hMeans[i]),x+hw[i],sy(hMeans[i]),g,'#777',.9);});
  bracket('h-bracket-outer',xs[0],xs[2],641,683.3,659.3,g);
  bracket('h-bracket-inner',xs[1],xs[2],665.3,674,673,g);
})();

/* ---------- panel i ---------- */
(function(){
  const g=document.getElementById('panelI');
  const sy=linear(0,15,765.7,635.7);
  const xs=[652.3,717.7];
  yAxis('i',iTicks,iTicks.map(String),sy,620,746.7,6.7,611,8.5,g);
  xTicksFlat('i',iCategories,xs,765.7,5,781.5,9,g);
  dotRows('i-primary-point',expand(iPrimaryLevels,iPrimaryCounts),xs[0],sy,3.6,1.9,'#f5b120','#443311',g,38,6);
  dotRows('i-metastasis-point',expand(iMetLevels,iMetCounts),xs[1],sy,3,2,'#1f5fa8','#0f2a4a',g);
  xs.forEach(function(x,i){line('i-mean-line',x-21,sy(iMeans[i]),x+21,sy(iMeans[i]),g,'#999',.9);});
  bracket('i-bracket',xs[0],xs[1],662.7,676.7,671.7,g);
})();

/* ---------- panel j ---------- */
(function(){
  const g=document.getElementById('panelJ');
  const sx=linear(0,1,420.7,550.7);
  const sy=linear(0,10,988.7,858.3);
  yAxis('j',jYTicks,jYTicks.map(String),sy,sx(0),sx(1),6.7,412.7,8.9,g);
  jXTicks.forEach(function(t,i){
    line('j-x-tick',sx(t),988.7,sx(t),994,g);
    txt('j-x-tick-label',jXTickLabels[i],sx(t),1005,8.9,'middle',g);
  });
  jMetastasis.forEach(function(p){
    mark('circle','j-metastasis-point',{cx:sx(p[0]),cy:sy(p[1]),r:1.9,fill:'#1f5fa8',stroke:'#123','stroke-width':.5},g);
  });
  jPrimary.forEach(function(p){
    mark('circle','j-primary-point',{cx:sx(p[0]),cy:sy(p[1]),r:1.8,fill:'#f5b120',stroke:'#443311','stroke-width':.5},g);
  });
  line('j-primary-fit',sx(jPrimaryFitX[0]),sy(jPrimaryFitY[0]),sx(jPrimaryFitX[1]),sy(jPrimaryFitY[1]),g,'#e8b84a',1.3);
  line('j-metastasis-fit',sx(jMetFitX[0]),sy(jMetFitY[0]),sx(jMetFitX[1]),sy(jMetFitY[1]),g,'#1f78c8',1.3);
})();

/* ---------- panel k ---------- */
(function(){
  const g=document.getElementById('panelK');
  const sy=linear(0,1,989,860.7);
  const xs=[656.3,711.7];
  yAxis('k',kTicks,kTickLabels,sy,620,748.3,6.7,610.7,8.1,g);
  xTicksFlat('k',kCategories,xs,989,0,1005,9,g);
  dotRows('k-primary-point',expand(kPrimaryLevels,kPrimaryCounts),xs[0],sy,3.2,1.9,'#f5b120','#443311',g);
  dotRows('k-metastasis-point',expand(kMetLevels,kMetCounts),xs[1],sy,2.7,1.9,'#1f5fa8','#0f2a4a',g);
  xs.forEach(function(x,i){line('k-mean-line',x-18,sy(kMeans[i]),x+18,sy(kMeans[i]),g,'#888',.9);});
  bracket('k-bracket',xs[0],xs[1],878.3,885,911.7,g);
})();
</script>
</body>
</html>
